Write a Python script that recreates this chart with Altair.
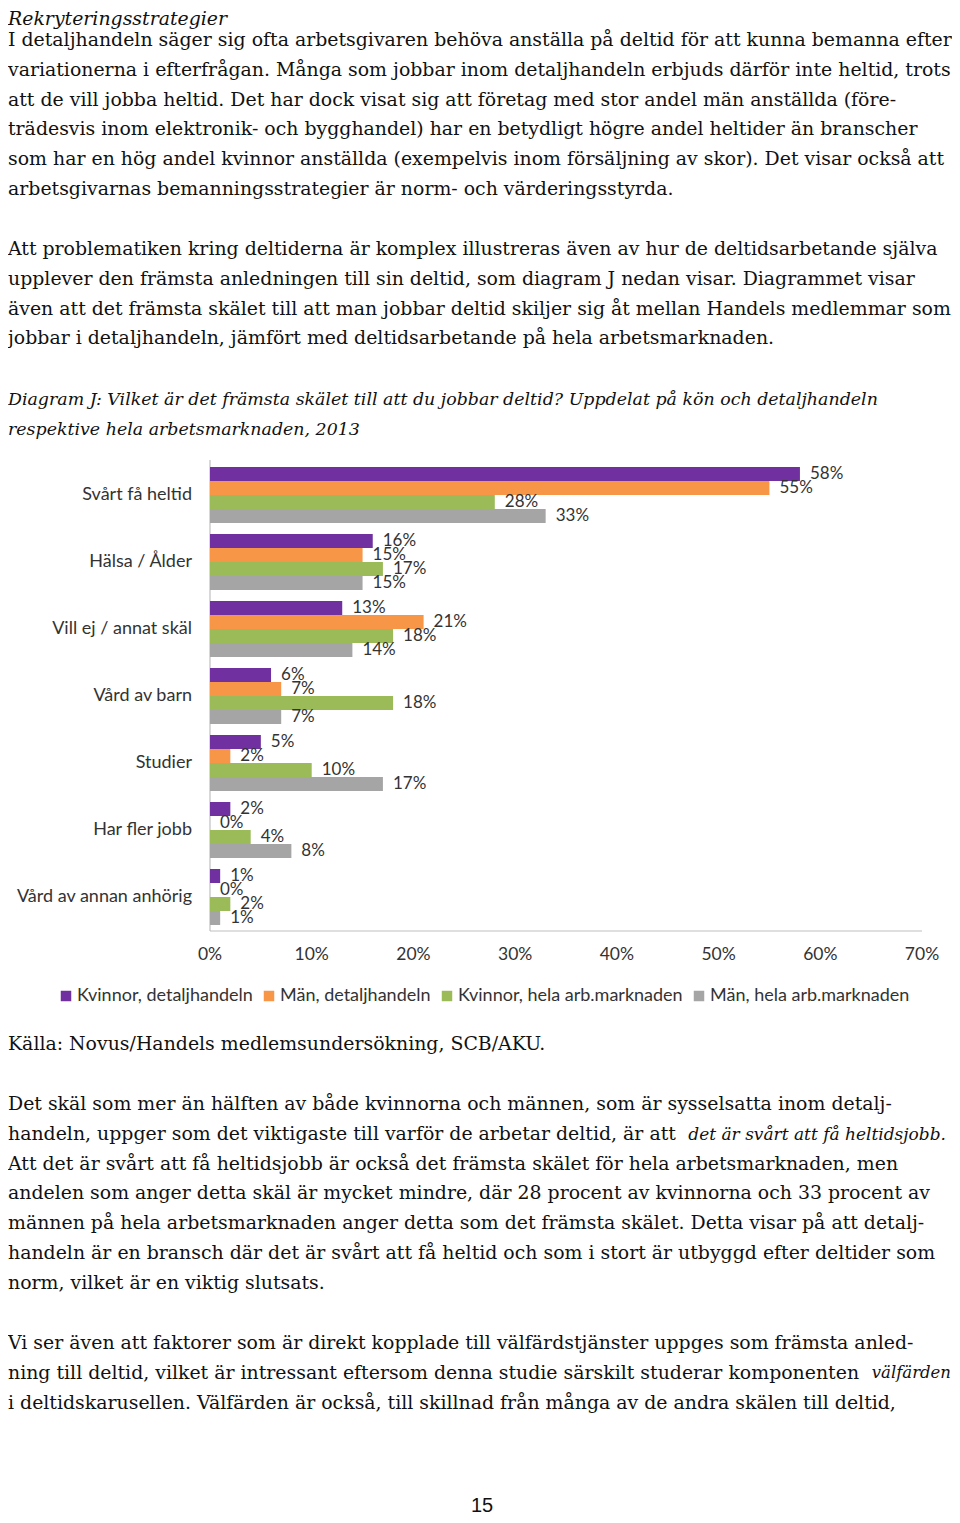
import altair as alt
import pandas as pd

# ---------------- data ----------------
categories = ["Svårt få heltid", "Hälsa / Ålder", "Vill ej / annat skäl", "Vård av barn",
              "Studier", "Har fler jobb", "Vård av annan anhörig"]
series = ["Kvinnor, detaljhandeln", "Män, detaljhandeln",
          "Kvinnor, hela arb.marknaden", "Män, hela arb.marknaden"]
kvinnor_detalj = [58, 16, 13, 6, 5, 2, 1]
man_detalj = [55, 15, 21, 7, 2, 0, 0]
kvinnor_hela = [28, 17, 18, 18, 10, 4, 2]
man_hela = [33, 15, 14, 7, 17, 8, 1]
ticks = [0, 10, 20, 30, 40, 50, 60, 70]
colors = ["#7030A0", "#F79646", "#9BBB59", "#A5A5A5"]

heading = "Rekryteringsstrategier"
para1 = [
    "I detaljhandeln säger sig ofta arbetsgivaren behöva anställa på deltid för att kunna bemanna efter",
    "variationerna i efterfrågan. Många som jobbar inom detaljhandeln erbjuds därför inte heltid, trots",
    "att de vill jobba heltid. Det har dock visat sig att företag med stor andel män anställda (före-",
    "trädesvis inom elektronik- och bygghandel) har en betydligt högre andel heltider än branscher",
    "som har en hög andel kvinnor anställda (exempelvis inom försäljning av skor). Det visar också att",
    "arbetsgivarnas bemanningsstrategier är norm- och värderingsstyrda.",
]
para2 = [
    "Att problematiken kring deltiderna är komplex illustreras även av hur de deltidsarbetande själva",
    "upplever den främsta anledningen till sin deltid, som diagram J nedan visar. Diagrammet visar",
    "även att det främsta skälet till att man jobbar deltid skiljer sig åt mellan Handels medlemmar som",
    "jobbar i detaljhandeln, jämfört med deltidsarbetande på hela arbetsmarknaden.",
]
caption = [
    "Diagram J: Vilket är det främsta skälet till att du jobbar deltid? Uppdelat på kön och detaljhandeln",
    "respektive hela arbetsmarknaden, 2013",
]
source = "Källa: Novus/Handels medlemsundersökning, SCB/AKU."
para3 = [
    "Det skäl som mer än hälften av både kvinnorna och männen, som är sysselsatta inom detalj-",
    "handeln, uppger som det viktigaste till varför de arbetar deltid, är att",
    "Att det är svårt att få heltidsjobb är också det främsta skälet för hela arbetsmarknaden, men",
    "andelen som anger detta skäl är mycket mindre, där 28 procent av kvinnorna och 33 procent av",
    "männen på hela arbetsmarknaden anger detta som det främsta skälet. Detta visar på att detalj-",
    "handeln är en bransch där det är svårt att få heltid och som i stort är utbyggd efter deltider som",
    "norm, vilket är en viktig slutsats.",
]
para3_italic = "det är svårt att få heltidsjobb."
para4 = [
    "Vi ser även att faktorer som är direkt kopplade till välfärdstjänster uppges som främsta anled-",
    "ning till deltid, vilket är intressant eftersom denna studie särskilt studerar komponenten",
    "i deltidskarusellen. Välfärden är också, till skillnad från många av de andra skälen till deltid,",
]
para4_italic = "välfärden"
page_number = "15"

# ---------------- layout ----------------
W, H = 944, 1507
M = 8  # page margin


def px(v):
    return v - M


SERIF = "DejaVu Serif"
SANS = "Lato"
BODY = 18.9
LH = 29.75
INK = "#111111"
CHART_INK = "#333333"

rows = []
for s, vals in zip(series, [kvinnor_detalj, man_detalj, kvinnor_hela, man_hela]):
    for c, v in zip(categories, vals):
        rows.append({"category": c, "series": s, "value": v})
df = pd.DataFrame(rows)

xscale = alt.Scale(domain=[ticks[0], ticks[-1]], range=[px(210), px(922)], nice=False)
yscale = alt.Scale(domain=categories, range=[px(467), px(925)], paddingInner=0.164, paddingOuter=0)
yoff = alt.YOffset("series:N", scale=alt.Scale(domain=series, paddingInner=0, paddingOuter=0))

bars = alt.Chart(df).mark_bar().encode(
    x=alt.X("value:Q", scale=xscale, axis=None),
    y=alt.Y("category:N", scale=yscale, axis=None),
    yOffset=yoff,
    color=alt.Color(
        "series:N",
        scale=alt.Scale(domain=series, range=colors),
        legend=alt.Legend(
            title=None, orient="none", legendX=px(57), legendY=px(987),
            direction="horizontal", symbolType="square", symbolSize=110,
            symbolStrokeWidth=0, labelFont=SANS, labelFontSize=18, labelLimit=0,
            labelColor=CHART_INK, labelOffset=2, columnPadding=7,
        ),
    ),
)

value_labels = alt.Chart(df).transform_calculate(
    label="datum.value + '%'"
).mark_text(align="left", baseline="middle", dx=10, font=SANS, fontSize=17, color=CHART_INK).encode(
    x=alt.X("value:Q", scale=xscale, axis=None),
    y=alt.Y("category:N", scale=yscale, axis=None),
    yOffset=yoff,
    text="label:N",
)

cat_labels = alt.Chart(pd.DataFrame({"category": categories})).mark_text(
    align="right", baseline="middle", font=SANS, fontSize=18, color=CHART_INK
).encode(
    y=alt.Y("category:N", scale=yscale, axis=None),
    x=alt.value(px(192)),
    text="category:N",
)

tick_labels = alt.Chart(pd.DataFrame({"tick": ticks})).transform_calculate(
    lbl="datum.tick + '%'"
).mark_text(align="center", baseline="middle", font=SANS, fontSize=17.5, color=CHART_INK).encode(
    x=alt.X("tick:Q", scale=xscale, axis=None),
    y=alt.value(px(955)),
    text="lbl:N",
)

axis_df = pd.DataFrame({"a": [ticks[0]], "b": [ticks[-1]]})
vline = alt.Chart(axis_df).mark_rule(color="#BFBFBF", strokeWidth=1.2).encode(
    x=alt.X("a:Q", scale=xscale, axis=None),
    y=alt.value(px(460)),
    y2=alt.value(px(931)),
)
hline = alt.Chart(axis_df).mark_rule(color="#BFBFBF", strokeWidth=1.2).encode(
    x=alt.X("a:Q", scale=xscale, axis=None),
    x2="b:Q",
    y=alt.value(px(931)),
)


def block(lines, x, y, size=BODY, style="normal", font=SERIF, align="left"):
    return alt.Chart(pd.DataFrame({"t": ["\n".join(lines)]})).mark_text(
        align=align, baseline="alphabetic", lineBreak="\n", lineHeight=LH,
        font=font, fontSize=size, fontStyle=style, color=INK,
    ).encode(x=alt.value(x), y=alt.value(y), text="t:N")


texts = [
    block([heading], 0, 17, style="italic"),
    block(para1, 0, px(46)),
    block(para2, 0, px(255)),
    block(caption, 0, px(405), size=17.4, style="italic"),
    block([source], 0, px(1050)),
    block(para3, 0, px(1110)),
    block([para3_italic], px(946), px(1140), size=17, style="italic", align="right"),
    block(para4, 0, px(1349)),
    block([para4_italic], W - 1, px(1378), size=16.5, style="italic", align="right"),
    block([page_number], px(482), H - 3, size=20, font="Liberation Sans", align="center"),
]

chart = alt.layer(
    vline, hline, bars, value_labels, cat_labels, tick_labels, *texts
).properties(
    width=W, height=H,
    autosize=alt.AutoSizeParams(type="none"),
    padding=0,
    background="white",
).configure_view(stroke=None, strokeWidth=0)

chart.save("out.html", embed_options={"renderer": "svg", "actions": False})
